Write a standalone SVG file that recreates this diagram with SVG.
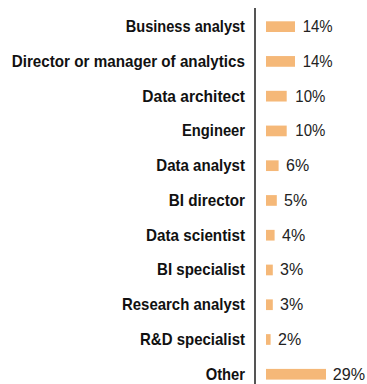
<svg xmlns="http://www.w3.org/2000/svg" width="367" height="384" viewBox="0 0 367 384">
<style>
.lbl{font-family:"Liberation Sans",Arial,sans-serif;font-weight:bold;font-size:17px;fill:#111;text-anchor:end}
.val{font-family:"Liberation Sans",Arial,sans-serif;font-size:16px;fill:#222}
.bar{fill:#F5B878}
</style>
<rect width="367" height="384" fill="#fff"/>
<g id="axis"><line x1="255" y1="8" x2="255" y2="384" stroke="#555" stroke-width="2"/></g>
<g id="r1"><text class="lbl" x="245" y="32" textLength="119.3" lengthAdjust="spacingAndGlyphs">Business analyst</text><rect class="bar" x="266" y="21.3" width="29" height="10.7"/><text class="val" x="302.7" y="32" textLength="30" lengthAdjust="spacingAndGlyphs">14%</text></g>
<g id="r2"><text class="lbl" x="245" y="66.76" textLength="233.3" lengthAdjust="spacingAndGlyphs">Director or manager of analytics</text><rect class="bar" x="266" y="56.06" width="29" height="10.7"/><text class="val" x="302.7" y="66.76" textLength="30" lengthAdjust="spacingAndGlyphs">14%</text></g>
<g id="r3"><text class="lbl" x="245" y="101.52" textLength="102.7" lengthAdjust="spacingAndGlyphs">Data architect</text><rect class="bar" x="266" y="90.82" width="20.7" height="10.7"/><text class="val" x="295.3" y="101.52" textLength="30" lengthAdjust="spacingAndGlyphs">10%</text></g>
<g id="r4"><text class="lbl" x="245" y="136.28" textLength="63" lengthAdjust="spacingAndGlyphs">Engineer</text><rect class="bar" x="266" y="125.58" width="20.7" height="10.7"/><text class="val" x="295.3" y="136.28" textLength="30" lengthAdjust="spacingAndGlyphs">10%</text></g>
<g id="r5"><text class="lbl" x="245" y="171.04" textLength="88.7" lengthAdjust="spacingAndGlyphs">Data analyst</text><rect class="bar" x="266" y="160.34" width="12.6" height="10.7"/><text class="val" x="286" y="171.04">6%</text></g>
<g id="r6"><text class="lbl" x="245" y="205.8" textLength="76.3" lengthAdjust="spacingAndGlyphs">BI director</text><rect class="bar" x="266" y="195.1" width="10.8" height="10.7"/><text class="val" x="284" y="205.8">5%</text></g>
<g id="r7"><text class="lbl" x="245" y="240.56" textLength="99" lengthAdjust="spacingAndGlyphs">Data scientist</text><rect class="bar" x="266" y="229.86" width="8.6" height="10.7"/><text class="val" x="282" y="240.56">4%</text></g>
<g id="r8"><text class="lbl" x="245" y="275.32" textLength="88" lengthAdjust="spacingAndGlyphs">BI specialist</text><rect class="bar" x="266" y="264.62" width="6.8" height="10.7"/><text class="val" x="280" y="275.32">3%</text></g>
<g id="r9"><text class="lbl" x="245" y="310.08" textLength="123" lengthAdjust="spacingAndGlyphs">Research analyst</text><rect class="bar" x="266" y="299.38" width="6.8" height="10.7"/><text class="val" x="280" y="310.08">3%</text></g>
<g id="r10"><text class="lbl" x="245" y="344.84" textLength="105" lengthAdjust="spacingAndGlyphs">R&amp;D specialist</text><rect class="bar" x="266" y="334.14" width="4.6" height="10.7"/><text class="val" x="278" y="344.84">2%</text></g>
<g id="r11"><text class="lbl" x="245" y="379.6" textLength="39.3" lengthAdjust="spacingAndGlyphs">Other</text><rect class="bar" x="266" y="368.9" width="60" height="10.7"/><text class="val" x="332.7" y="379.6" textLength="32.3" lengthAdjust="spacingAndGlyphs">29%</text></g>
</svg>
